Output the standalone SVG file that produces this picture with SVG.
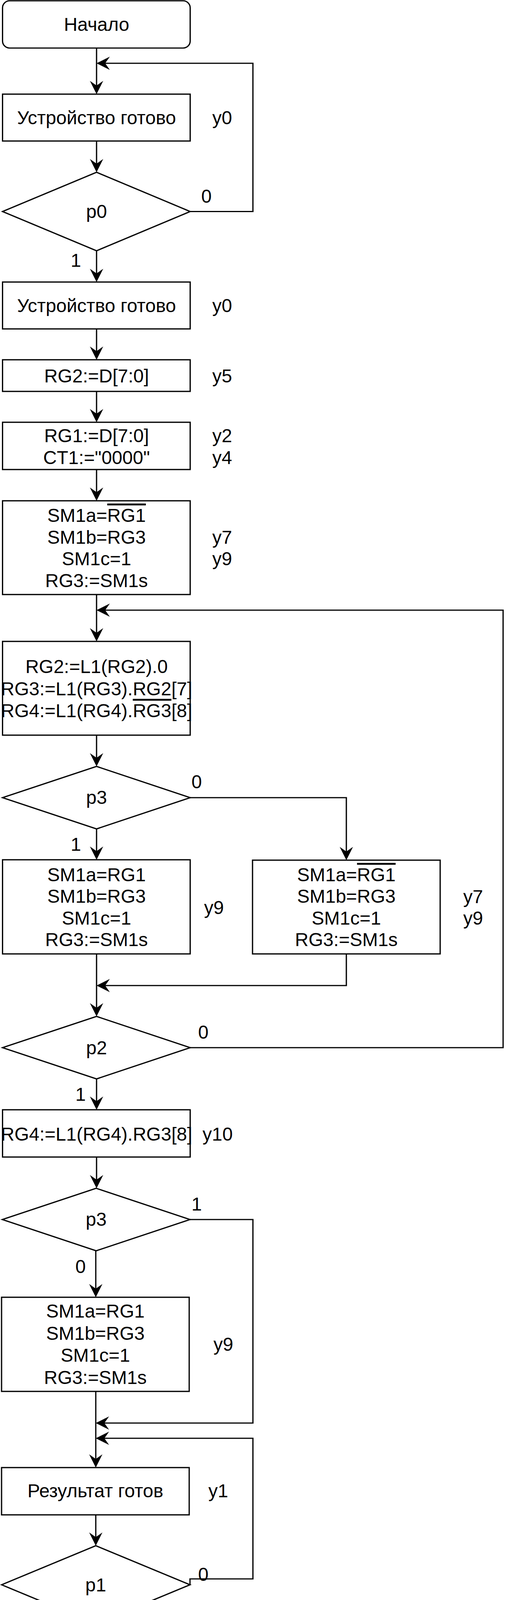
<svg xmlns="http://www.w3.org/2000/svg" width="1320" height="4924" viewBox="0 0 1320 4924">
<style>
.n{fill:#fff;stroke:#000;stroke-width:3.2}
.t{font-family:"Liberation Sans",Arial,Helvetica,sans-serif;font-size:48px;fill:#000}
.m{text-anchor:middle}
.c{fill:none;stroke:#000;stroke-width:3.2;marker-end:url(#arr)}
.ov{text-decoration:overline}
</style>
<defs>
<marker id="arr" viewBox="0 0 34 34" markerWidth="34" markerHeight="34" markerUnits="userSpaceOnUse" refX="31" refY="17" orient="auto">
<path d="M34,17 L0,0 L12,17 L0,34 Z" fill="#000"/>
</marker>
</defs>
<rect width="1320" height="4924" fill="#fff"/>
<g id="connectors">
<path class="c" d="M247,123 V238"/>
<path class="c" d="M486.5,541.5 H647 V162 H250"/>
<path class="c" d="M247,361 V438"/>
<path class="c" d="M247,642 V719"/>
<path class="c" d="M247,842 V918"/>
<path class="c" d="M247,1002 V1078"/>
<path class="c" d="M247,1202 V1279"/>
<path class="c" d="M247,1522 V1639"/>
<path class="c" d="M247,1882 V1959"/>
<path class="c" d="M486.5,2042 H886 V2199"/>
<path class="c" d="M247,2122 V2198"/>
<path class="c" d="M886,2442 V2523 H250"/>
<path class="c" d="M247,2442 V2599"/>
<path class="c" d="M486.5,2682 H1287 V1562 H250"/>
<path class="c" d="M247,2762 V2838"/>
<path class="c" d="M247,2962 V3039"/>
<path class="c" d="M486,3122 H647 V3643 H248"/>
<path class="c" d="M245,3202 V3318"/>
<path class="c" d="M245,3562 V3754"/>
<path class="c" d="M486,4057 V4042 H647 V3682 H248"/>
<path class="c" d="M245,3878 V3954"/>
<path class="c" d="M245,4157 V4234"/>
<path class="c" d="M245,4358 V4434"/>
<path class="c" d="M245,4558 V4634"/>
<path class="c" d="M245,4758 L246.9,4837"/>
</g>
<g id="edge-labels" class="t m">
<text x="528" y="519">0</text>
<text x="194" y="683">1</text>
<text x="503" y="2018">0</text>
<text x="194" y="2178">1</text>
<text x="520" y="2659">0</text>
<text x="206" y="2818">1</text>
<text x="503" y="3099">1</text>
<text x="206" y="3259">0</text>
<text x="520" y="4047">0</text>
<text x="194" y="4207">1</text>
</g>
<g id="start"><rect class="n" x="6.5" y="2" width="480" height="121" rx="18"/><text class="t m" x="247" y="79">Начало</text></g>
<g id="ready1"><rect class="n" x="6.5" y="241" width="480" height="120"/><text class="t m" x="247" y="318">Устройство готово</text><text class="t" x="543" y="318">y0</text></g>
<g id="p0"><polygon class="n" points="247,441 486.5,541.5 247,642 6.5,541.5"/><text class="t m" x="247" y="558">p0</text></g>
<g id="ready2"><rect class="n" x="6.5" y="722" width="480" height="120"/><text class="t m" x="247" y="799">Устройство готово</text><text class="t" x="543" y="799">y0</text></g>
<g id="rg2load"><rect class="n" x="6.5" y="921" width="480" height="81"/><text class="t m" x="247" y="979">RG2:=D[7:0]</text><text class="t" x="543" y="979">y5</text></g>
<g id="rg1load"><rect class="n" x="6.5" y="1081" width="480" height="121"/><text class="t m" x="247" y="1132">RG1:=D[7:0]</text><text class="t m" x="247" y="1188">CT1:="0000"</text><text class="t" x="543" y="1132">y2</text><text class="t" x="543" y="1188">y4</text></g>
<g id="sm1"><rect class="n" x="6.5" y="1282" width="480" height="240"/>
<text class="t m" x="247" y="1336">SM1a=<tspan class="ov">RG1</tspan></text>
<text class="t m" x="247" y="1392">SM1b=RG3</text>
<text class="t m" x="247" y="1447">SM1c=1</text>
<text class="t m" x="247" y="1503">RG3:=SM1s</text>
<text class="t" x="543" y="1392">y7</text><text class="t" x="543" y="1447">y9</text></g>
<g id="shift"><rect class="n" x="6.5" y="1642" width="480" height="240"/>
<text class="t m" x="247" y="1723">RG2:=L1(RG2).0</text>
<text class="t m" x="247" y="1780">RG3:=L1(RG3).RG2[7]</text>
<text class="t m" x="247" y="1836">RG4:=L1(RG4).<tspan class="ov">RG3</tspan>[8]</text></g>
<g id="p3a"><polygon class="n" points="247,1962 486.5,2042 247,2122 6.5,2042"/><text class="t m" x="247" y="2058">p3</text></g>
<g id="sm2"><rect class="n" x="6.5" y="2201" width="480" height="241"/>
<text class="t m" x="247" y="2256">SM1a=RG1</text>
<text class="t m" x="247" y="2311">SM1b=RG3</text>
<text class="t m" x="247" y="2367">SM1c=1</text>
<text class="t m" x="247" y="2422">RG3:=SM1s</text>
<text class="t" x="522" y="2340">y9</text></g>
<g id="sm3"><rect class="n" x="646" y="2202" width="480" height="240"/>
<text class="t m" x="886" y="2256">SM1a=<tspan class="ov">RG1</tspan></text>
<text class="t m" x="886" y="2311">SM1b=RG3</text>
<text class="t m" x="886" y="2367">SM1c=1</text>
<text class="t m" x="886" y="2422">RG3:=SM1s</text>
<text class="t" x="1185" y="2312">y7</text><text class="t" x="1185" y="2367">y9</text></g>
<g id="p2"><polygon class="n" points="247,2602 486.5,2682 247,2762 6.5,2682"/><text class="t m" x="247" y="2699">p2</text></g>
<g id="rg4shift"><rect class="n" x="6.5" y="2841" width="480" height="121"/><text class="t m" x="247" y="2920">RG4:=L1(RG4).RG3[8]</text><text class="t" x="518" y="2920">y10</text></g>
<g id="p3b"><polygon class="n" points="246,3042 486,3122 246,3202 6,3122"/><text class="t m" x="246" y="3138">p3</text></g>
<g id="sm4"><rect class="n" x="4" y="3321" width="480" height="241"/>
<text class="t m" x="244" y="3373">SM1a=RG1</text>
<text class="t m" x="244" y="3430">SM1b=RG3</text>
<text class="t m" x="244" y="3486">SM1c=1</text>
<text class="t m" x="244" y="3543">RG3:=SM1s</text>
<text class="t" x="546" y="3458">y9</text></g>
<g id="result1"><rect class="n" x="4" y="3757" width="480" height="121"/><text class="t m" x="244" y="3833">Результат готов</text><text class="t" x="533" y="3833">y1</text></g>
<g id="p1"><polygon class="n" points="245,3957 486,4057 245,4157 4,4057"/><text class="t m" x="245" y="4074">p1</text></g>
<g id="result2"><rect class="n" x="4" y="4237" width="480" height="121"/><text class="t m" x="244" y="4315">Результат готов</text><text class="t" x="537" y="4315">y1</text></g>
<g id="bd1"><rect class="n" x="4" y="4437" width="480" height="121"/><text class="t m" x="244" y="4515">BD1=RG4[7:0]</text><text class="t" x="526" y="4512">y11</text></g>
<g id="bd2"><rect class="n" x="4" y="4637" width="480" height="121"/><text class="t m" x="244" y="4715">BD2=RG3[7:0]</text><text class="t" x="526" y="4707">y12</text></g>
<g id="end"><rect class="n" x="6.5" y="4840" width="480" height="81" rx="12"/><text class="t m" x="247" y="4898">Конец</text></g>
</svg>
